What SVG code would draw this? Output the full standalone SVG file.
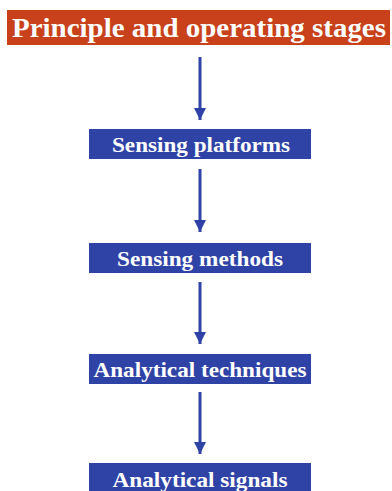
<svg xmlns="http://www.w3.org/2000/svg" width="392" height="491" viewBox="0 0 392 491">
<style>
.box{fill:#2f43a6}
.lbl{font-family:"Liberation Serif","Times New Roman",serif;font-weight:bold;fill:#ffffff;text-anchor:middle}
.edge{stroke:#2f43a6;stroke-width:3;fill:none}
</style>
<defs>
<marker id="ah" markerUnits="userSpaceOnUse" markerWidth="12" markerHeight="13" refX="12" refY="6" orient="auto">
<path d="M0,0 L12,6 L0,12 Z" fill="#2f43a6"/>
</marker>
</defs>
<rect width="392" height="491" fill="#ffffff"/>
<g id="title">
<rect x="7" y="10" width="383" height="35" fill="#c8411b"/>
<text class="lbl" x="199" y="37" font-size="26.5" textLength="374" lengthAdjust="spacingAndGlyphs">Principle and operating stages</text>
</g>
<g id="platforms">
<rect class="box" x="89" y="129" width="222" height="30"/>
<text class="lbl" x="201" y="152" font-size="22" textLength="178" lengthAdjust="spacingAndGlyphs">Sensing platforms</text>
</g>
<g id="methods">
<rect class="box" x="89" y="243" width="222" height="30"/>
<text class="lbl" x="200" y="266" font-size="22" textLength="166" lengthAdjust="spacingAndGlyphs">Sensing methods</text>
</g>
<g id="techniques">
<rect class="box" x="89" y="354" width="222" height="30"/>
<text class="lbl" x="200" y="377" font-size="22" textLength="213" lengthAdjust="spacingAndGlyphs">Analytical techniques</text>
</g>
<g id="signals">
<rect class="box" x="89" y="463" width="222" height="30"/>
<text class="lbl" x="200" y="487" font-size="22" textLength="175" lengthAdjust="spacingAndGlyphs">Analytical signals</text>
</g>
<g id="connectors">
<line class="edge" x1="200" y1="57" x2="200" y2="120" marker-end="url(#ah)"/>
<line class="edge" x1="200" y1="169" x2="200" y2="232" marker-end="url(#ah)"/>
<line class="edge" x1="200" y1="282" x2="200" y2="344" marker-end="url(#ah)"/>
<line class="edge" x1="200" y1="392" x2="200" y2="454" marker-end="url(#ah)"/>
</g>
</svg>
